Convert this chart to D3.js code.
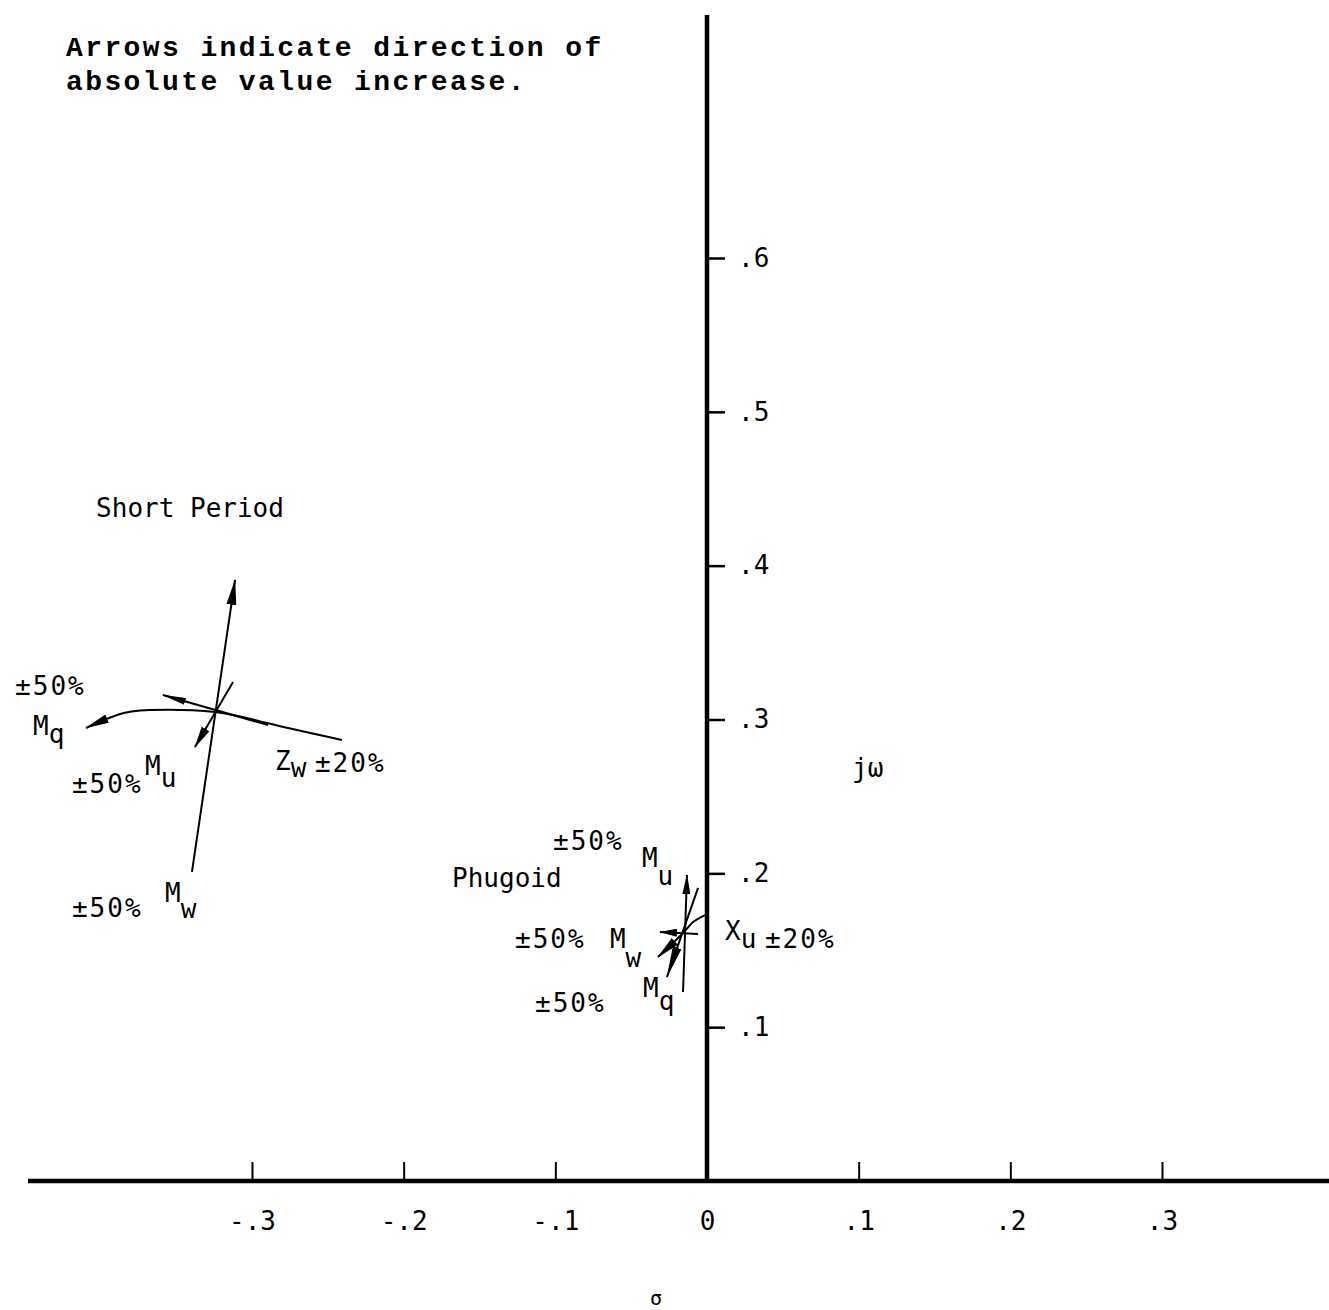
<!DOCTYPE html>
<html>
<head>
<meta charset="utf-8">
<script src="https://d3js.org/d3.v7.min.js"></script>
<title>Root locus sensitivity</title>
<style>
  body { margin: 0; background: #fff; }
  svg text { font-family: "DejaVu Sans Mono", monospace; font-size: 26px; fill: #000; }
  svg text.title { font-family: "Liberation Mono", monospace; font-weight: bold; font-size: 28px; letter-spacing: 2.4px; }
  svg text.pct { letter-spacing: 2px; }
</style>
</head>
<body>
<svg id="viz" width="1329" height="1310"></svg>
<script>
// axis ticks
const xTicks = [-0.3, -0.2, -0.1, 0, 0.1, 0.2, 0.3];
const xTickLabels = ["-.3", "-.2", "-.1", "0", ".1", ".2", ".3"];
const yTicks = [0.1, 0.2, 0.3, 0.4, 0.5, 0.6];
const yTickLabels = [".1", ".2", ".3", ".4", ".5", ".6"];

// short period loci [sigma, jw], last point is the arrow tip
const spMw = [[-0.3396, 0.2009], [-0.3112, 0.3907]];
const spMq = [[-0.2407, 0.2867], [-0.2901, 0.2977], [-0.3244, 0.3049], [-0.3673, 0.3062], [-0.3890, 0.3029], [-0.4094, 0.2945]];
const spZw = [[-0.2894, 0.2964], [-0.3587, 0.3159]];
const spMu = [[-0.3125, 0.3244], [-0.3376, 0.2821]];

// phugoid loci
const phMu = [[-0.0158, 0.1229], [-0.0132, 0.1989]];
const phMq = [[-0.0059, 0.1905], [-0.0264, 0.1326]];
const phMw = [[-0.0059, 0.1606], [-0.0310, 0.1619]];
const phXu = [[-0.0013, 0.1729], [-0.0092, 0.1684], [-0.0158, 0.1612], [-0.0323, 0.1456]];

const svg = d3.select("#viz");

var x = d3.scaleLinear().domain([-0.3, 0.3]).range([252, 1162]);
var y = d3.scaleLinear().domain([0, 0.6]).range([1181, 258]);

// arrow heads
var defs = svg.append("defs");
function head(id, len, wid) {
  defs.append("marker")
    .attr("id", id)
    .attr("viewBox", "0 " + (-wid / 2) + " " + len + " " + wid)
    .attr("refX", len - 1)
    .attr("refY", 0)
    .attr("markerWidth", len)
    .attr("markerHeight", wid)
    .attr("markerUnits", "userSpaceOnUse")
    .attr("orient", "auto")
    .append("path")
    .attr("d", "M0," + (-wid / 2) + "L" + len + ",0L0," + (wid / 2) + "Z")
    .attr("fill", "#000");
  return "url(#" + id + ")";
}

// ticks
var xAxis = d3.axisBottom(x)
  .tickValues(xTicks)
  .tickFormat(function (d, i) { return xTickLabels[i]; })
  .tickSizeInner(-19).tickSizeOuter(0).tickPadding(31);
var gx = svg.append("g").attr("transform", "translate(0," + y(0) + ")").call(xAxis);
gx.select(".domain").remove();
gx.selectAll(".tick line").attr("stroke-width", 2);

var yAxis = d3.axisRight(y)
  .tickValues(yTicks)
  .tickFormat(function (d, i) { return yTickLabels[i]; })
  .tickSizeInner(18).tickSizeOuter(0).tickPadding(13);
var gy = svg.append("g").attr("transform", "translate(" + x(0) + ",0)").call(yAxis);
gy.select(".domain").remove();
gy.selectAll(".tick line").attr("stroke-width", 2.5);

// main axes
svg.append("line")
  .attr("x1", 28).attr("x2", 1329)
  .attr("y1", y(0)).attr("y2", y(0))
  .attr("stroke", "#000").attr("stroke-width", 4.5);
svg.append("line")
  .attr("x1", x(0)).attr("x2", x(0))
  .attr("y1", 15).attr("y2", y(0) + 2)
  .attr("stroke", "#000").attr("stroke-width", 4.5);

// loci
var straight = d3.line().x(function (d) { return x(d[0]); }).y(function (d) { return y(d[1]); });
var curved = d3.line().x(function (d) { return x(d[0]); }).y(function (d) { return y(d[1]); }).curve(d3.curveNatural);

function locus(pts, gen, marker) {
  svg.append("path")
    .attr("d", gen(pts))
    .attr("fill", "none")
    .attr("stroke", "#000")
    .attr("stroke-width", 2)
    .attr("marker-end", marker);
}

locus(spMw, straight, head("hMw", 26, 10));
locus(spMq, curved, head("hMq", 24, 9));
locus(spZw, straight, head("hZw", 24, 7));
locus(spMu, straight, head("hMu", 22, 9));

locus(phMu, straight, head("pMu", 20, 8));
locus(phMq, straight, head("pMq", 32, 9));
locus(phMw, straight, head("pMw", 18, 8));
locus(phXu, curved, head("pXu", 24, 9));

// text
function label(sx, sy, main, sub, subDy, cls) {
  var t = svg.append("text")
    .attr("x", x(sx)).attr("y", y(sy));
  if (cls) t.attr("class", cls);
  t.append("tspan").text(main);
  if (sub) t.append("tspan").attr("dy", subDy).text(sub);
}

svg.append("text").attr("class", "title").attr("x", 66).attr("y", 56)
  .text("Arrows indicate direction of");
svg.append("text").attr("class", "title").attr("x", 66).attr("y", 90)
  .text("absolute value increase.");

label(-0.4028, 0.4316, "Short Period");
label(-0.4562, 0.3159, "±50%", null, 0, "pct");
label(-0.4444, 0.2899, "M", "q", 8);
label(-0.4187, 0.2522, "±50%", null, 0, "pct");
label(-0.3705, 0.2639, "M", "u", 12);
label(-0.2848, 0.2672, "Z", "w", 7);
label(-0.2585, 0.2659, "±20%", null, 0, "pct");
label(-0.4187, 0.1716, "±50%", null, 0, "pct");
label(-0.3573, 0.1814, "M", "w", 16);

label(-0.1015, 0.2152, "±50%", null, 0, "pct");
label(-0.0429, 0.2041, "M", "u", 18);
label(-0.1681, 0.1911, "Phugoid");
label(-0.1266, 0.1515, "±50%", null, 0, "pct");
label(-0.0640, 0.1515, "M", "w", 19);
label(0.0119, 0.1567, "X", "u", 8);
label(0.0382, 0.1515, "±20%", null, 0, "pct");
label(-0.0422, 0.1196, "M", "q", 13);
label(-0.1134, 0.1099, "±50%", null, 0, "pct");

label(0.0956, 0.2626, "jω");
svg.append("text").attr("x", x(-0.0376)).attr("y", y(-0.0806))
  .style("font-size", "20px").text("σ");
</script>
</body>
</html>
